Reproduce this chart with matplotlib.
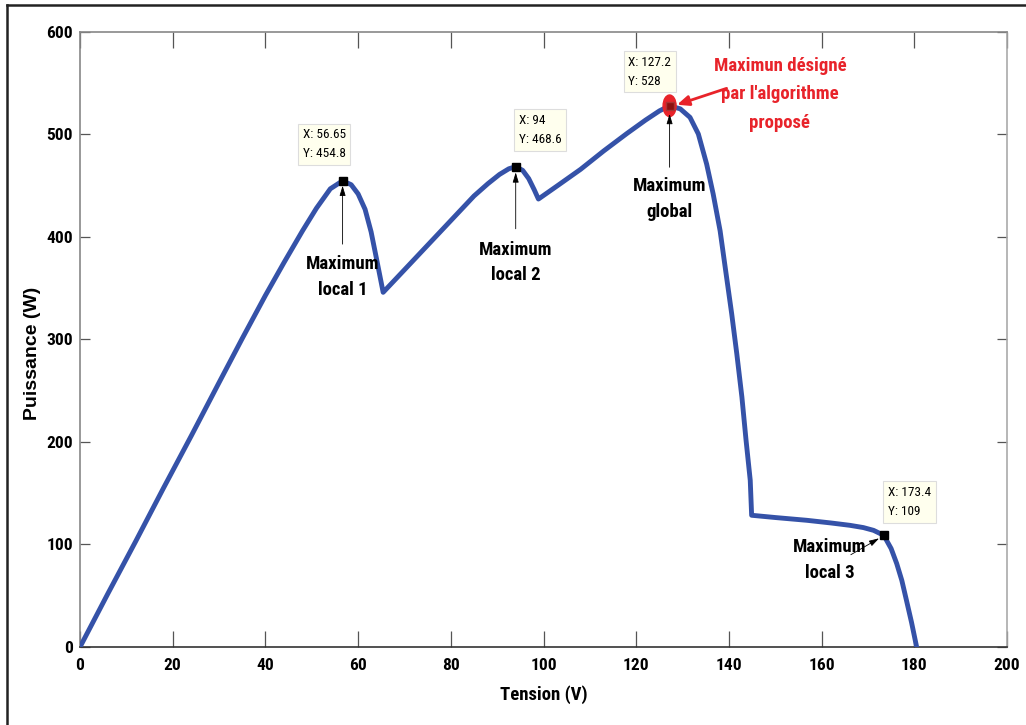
import matplotlib
matplotlib.use("Agg")
import matplotlib.pyplot as plt
from matplotlib.lines import Line2D
from matplotlib.patches import Ellipse
from matplotlib import font_manager as fm

# ---- data ----
tension = [0, 6, 12, 18, 24, 30, 35, 40, 44, 48, 51, 54, 56.65,
           58.5, 60, 61.5, 62.8, 64, 65.4,
           70, 75, 80, 85, 88, 90.5, 92.5, 94, 95.5, 96.8, 98, 98.9,
           103, 108, 113, 118, 122, 125, 127.2, 129.5, 131.6, 133.4, 135.2,
           136.6, 138.1, 139.3, 140.6, 141.7, 142.8, 143.7, 144.6, 144.9,
           150, 156.8, 162, 166.1, 169, 171.2, 173.4, 175, 176.2, 177.3, 178.3, 179.4, 180.5]
puissance = [0, 52, 103, 155, 206, 258, 301, 343, 375, 406, 428, 447, 454.8,
             451, 442, 427, 405, 378, 346,
             368, 392, 416, 440, 452, 461, 466.5, 468.6, 465, 457, 446, 437,
             450, 466, 484, 501, 514, 523, 528, 525, 516.7, 500.5, 471,
             442, 406, 367, 325, 286, 243.8, 201.5, 162.6, 128.5,
             126.3, 123.6, 121, 118.7, 116.5, 113.8, 109, 96, 81.4, 65, 45.6, 24, 0]

tips_x = [56.65, 94, 127.2, 173.4]
tips_y = [454.8, 468.6, 528, 109]
tips_lbl = ["X: 56.65\nY: 454.8", "X: 94\nY: 468.6", "X: 127.2\nY: 528", "X: 173.4\nY: 109"]
ann_lbl = ["Maximum\nlocal 1", "Maximum\nlocal 2", "Maximum\nglobal", "Maximum\nlocal 3"]
red_lbl = "Maximun désigné\npar l'algorithme\nproposé"

xticks = [0, 20, 40, 60, 80, 100, 120, 140, 160, 180, 200]
yticks = [0, 100, 200, 300, 400, 500, 600]

# ---- font selection: pick an installed narrow family that has the needed weight ----
_avail = {}
for _f in fm.fontManager.ttflist:
    _w = _f.weight if isinstance(_f.weight, int) else fm.weight_dict.get(_f.weight, 400)
    _avail.setdefault(_f.name, set()).add(_w)

def pick(prefs, bold):
    for p in prefs:
        ws = _avail.get(p)
        if not ws:
            continue
        if bold and any(w >= 600 for w in ws):
            return p
        if not bold and any(350 <= w <= 500 for w in ws):
            return p
    return 'DejaVu Sans'

PREFS = ['Liberation Sans Narrow', 'Arial Narrow', 'Roboto Condensed', 'PT Sans Narrow',
         'Archivo Narrow', 'Fira Sans Condensed', 'Asap Condensed', 'Barlow Semi Condensed',
         'Encode Sans Condensed', 'Sofia Sans Condensed', 'IBM Plex Sans Condensed',
         'Open Sans Condensed']
NB = pick(PREFS, True)
NR = pick(PREFS, False)
WIDE = pick(['Liberation Sans', 'Arimo'], True)

fig = plt.figure(figsize=(10.26, 7.25), dpi=100)
ax = fig.add_axes([0.078, 0.1076, 0.9035, 0.8483])

ax.plot(tension, puissance, color='#3552A8', lw=3.5, solid_joinstyle='round',
        solid_capstyle='round', zorder=3)

ax.set_xlim(0, 200)
ax.set_ylim(0, 600)
ax.set_xticks(xticks)
ax.set_yticks(yticks)
ax.set_xticklabels([str(v) for v in xticks], fontfamily=NB, fontweight='bold', fontsize=12.5)
ax.set_yticklabels([str(v) for v in yticks], fontfamily=NB, fontweight='bold', fontsize=12.5)
ax.tick_params(axis='x', direction='in', length=11.5, width=0.9, color='#555555',
               top=True, pad=8)
ax.tick_params(axis='y', direction='in', length=7, width=0.9, color='#555555',
               right=True, pad=5)
for s in ['left', 'top']:
    ax.spines[s].set_color('#888888')
ax.spines['right'].set_color('#aaaaaa')
ax.spines['bottom'].set_color('#333333')
for s in ax.spines.values():
    s.set_linewidth(1.2)

ax.set_xlabel("Tension (V)", fontfamily=NB, fontweight='bold', fontsize=13.5, labelpad=9)
ax.set_ylabel("Puissance (W)", fontfamily=WIDE, fontweight='bold', fontsize=14)
ax.yaxis.set_label_coords(-0.042, 0.477)

# data tip boxes
box_pos = [(48.0, 506), (94.7, 520), (118.3, 577), (174.3, 157)]
for (bx, by), lbl in zip(box_pos, tips_lbl):
    ax.text(bx, by, lbl, ha='left', va='top', fontfamily=NR, fontsize=9.5,
            linespacing=1.6, zorder=6,
            bbox=dict(boxstyle='square,pad=0.35', fc='#FFFFEE', ec='#dddddd', lw=0.8))

# red highlight at global max
ax.add_patch(Ellipse((tips_x[2], tips_y[2]), 2.8, 21, color='#E8232A', zorder=4))

# markers
for i, (x, y) in enumerate(zip(tips_x, tips_y)):
    ax.plot([x], [y], marker='s', ms=6, color='#8B1010' if i == 2 else 'black',
            mec='#aa3333' if i == 2 else 'black', zorder=5, linestyle='none')

# annotations (text + arrow)
ann_text_pos = [(56.65, 361), (94, 375), (127.2, 437), (161.8, 85)]
arrow_start = [(56.65, 393), (94, 408), (127.2, 468), (166.3, 90)]
arrow_end = [(56.65, 450), (94, 463), (127.2, 520), (172.4, 106)]
for (tx, ty), lbl in zip(ann_text_pos, ann_lbl):
    ax.text(tx, ty, lbl, ha='center', va='center', fontfamily=NB, fontweight='bold',
            fontsize=13.5, linespacing=1.55, zorder=6)
for (sx, sy), (ex, ey) in zip(arrow_start, arrow_end):
    ax.annotate('', xy=(ex, ey), xytext=(sx, sy),
                arrowprops=dict(arrowstyle='-|>,head_length=0.6,head_width=0.18',
                                color='black', lw=0.6, shrinkA=0, shrinkB=0), zorder=6)

# red label and arrow
ax.text(151, 539, red_lbl, ha='center', va='center', fontfamily=NB, fontweight='bold',
        fontsize=13.5, color='#E8232A', linespacing=1.75, zorder=6)
ax.annotate('', xy=(128.8, 529), xytext=(139.5, 545),
            arrowprops=dict(arrowstyle='-|>,head_length=0.7,head_width=0.3',
                            color='#E8232A', lw=2, shrinkA=0, shrinkB=0), zorder=6)

# outer frame lines (left and top)
fig.add_artist(Line2D([0.0068, 0.0068], [0.0, 0.9935], transform=fig.transFigure,
                      color='#222222', lw=1.8))
fig.add_artist(Line2D([0.0068, 1.0], [0.9935, 0.9935], transform=fig.transFigure,
                      color='#222222', lw=1.8))

fig.savefig("out.png", dpi=100)
